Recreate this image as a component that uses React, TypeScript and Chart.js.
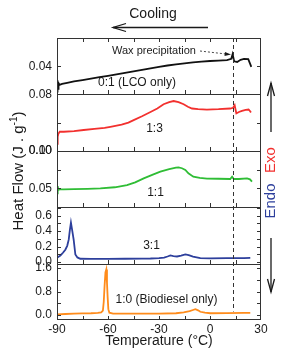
import React, { useEffect, useRef } from "react";
import { Chart, registerables } from "chart.js";

Chart.register(...registerables);

const W = 284;
const H = 356;
const FONT = "'Liberation Sans', Arial, Helvetica, sans-serif";

// ---- Data (temperature in °C, heat flow in J/g) ----
const tempLCO = [-90, -89.7, -89.4, -89.1, -88.5, -87, -84, -80, -75, -70, -65, -60, -55, -50, -45, -40, -35, -30, -25, -20, -15, -10, -5, 0, 5, 10, 12.5, 13.3, 14.2, 16, 18, 20, 22.5, 23.5, 24.3];
const flowLCO = [0.022, 0.030, 0.024, 0.028, 0.0268, 0.0275, 0.0282, 0.0292, 0.0302, 0.0312, 0.0322, 0.0332, 0.0342, 0.0353, 0.0363, 0.0374, 0.0385, 0.0396, 0.0405, 0.0413, 0.042, 0.0427, 0.0432, 0.0437, 0.044, 0.0443, 0.0452, 0.0485, 0.0435, 0.043, 0.0445, 0.0452, 0.045, 0.042, 0.0395];

const temp13 = [-90, -89.6, -89.2, -88.4, -86, -80, -74.3, -68, -62, -58.6, -52, -48, -44.9, -40, -35, -31, -27.3, -24, -21.4, -18.5, -15.5, -13, -10.6, -7, -1.8, 5, 11.9, 13.6, 14.5, 15.5, 17, 18.8, 21, 22.7, 23.5, 24.1];
const flow13 = [0.010, 0.020, 0.024, 0.027, 0.027, 0.028, 0.0295, 0.031, 0.0325, 0.034, 0.037, 0.040, 0.0435, 0.049, 0.055, 0.060, 0.066, 0.069, 0.0706, 0.069, 0.066, 0.0625, 0.060, 0.059, 0.0585, 0.059, 0.060, 0.061, 0.0646, 0.053, 0.055, 0.0566, 0.058, 0.0585, 0.0565, 0.0543];

const temp11 = [-90, -89.6, -89.2, -88.5, -86, -80, -72, -64.5, -56, -48.8, -44, -39, -34, -29.2, -24, -20, -18.5, -16.5, -14.5, -12.7, -9.8, -6, -1.8, 5, 11.9, 13, 14, 17, 21.8, 23.5, 24.7];
const flow11 = [0.0433, 0.0531, 0.048, 0.0487, 0.0488, 0.049, 0.0495, 0.050, 0.0515, 0.0545, 0.058, 0.0634, 0.068, 0.0723, 0.0755, 0.0775, 0.078, 0.0768, 0.0745, 0.070, 0.0656, 0.064, 0.063, 0.0628, 0.0625, 0.0656, 0.0625, 0.0625, 0.0634, 0.062, 0.059];

const temp31 = [-90, -88, -86.5, -85.1, -84, -83.1, -82.4, -81.8, -81.2, -80.2, -79.2, -78, -76.3, -70, -60, -50, -40, -35, -30, -27, -25, -23.3, -21.5, -19.4, -17, -14.5, -12.5, -10, -5.7, 0, 10, 13.3, 15, 20, 23.7];
const flow31 = [0.056, 0.085, 0.12, 0.16, 0.21, 0.29, 0.42, 0.51, 0.43, 0.29, 0.098, 0.06, 0.043, 0.042, 0.042, 0.043, 0.045, 0.046, 0.05, 0.058, 0.072, 0.085, 0.078, 0.072, 0.082, 0.098, 0.09, 0.07, 0.05, 0.048, 0.05, 0.052, 0.05, 0.052, 0.054];

const tempBio = [-90, -85, -80, -75, -70, -66, -64, -63, -62.5, -62, -61.5, -61, -60.6, -60.2, -59.8, -59.2, -57, -50, -40, -30, -20, -15.5, -12, -10, -8.6, -7, -5.7, -3, 0.2, 10, 20, 23.7];
const flowBio = [0.024, 0.035, 0.045, 0.055, 0.06, 0.07, 0.09, 0.15, 0.45, 1.0, 1.45, 1.55, 1.1, 0.6, 0.2, 0.08, 0.05, 0.045, 0.045, 0.048, 0.06, 0.09, 0.13, 0.17, 0.2, 0.16, 0.11, 0.08, 0.06, 0.065, 0.072, 0.075];

// ---- Axis ticks ----
const xLabelTicks = [-90, -60, -30, 0, 30];
const xMinorTicks = [-75, -60, -45, -30, -15, 0, 15];
const ticksP1 = [0.04];
const labelsP1 = [0.04];
const ticksP2 = [0, 0.04, 0.08];
const labelsP2 = [0, 0.08];
const ticksP3 = [0.05, 0.075, 0.1];
const labelsP3 = [0.05, 0.1];
const ticksP4 = [0, 0.1, 0.2, 0.3, 0.4, 0.5, 0.6, 0.7];
const labelsP4 = [0, 0.2, 0.4, 0.6];
const ticksP5 = [0, 0.4, 0.8, 1.2, 1.6];
const labelsP5 = [0, 0.8, 1.6];

const waxTemp = 13.3;

const COL_BLACK = "#111111";
const COL_RED = "#f2302e";
const COL_GREEN = "#2fbd35";
const COL_BLUE = "#2d3f9c";
const COL_ORANGE = "#ff8c1c";
const TXT = "#1a1a1a";
const FRAME = "#333333";

const pts = (xs: number[], ys: number[]) => xs.map((t, i) => ({ x: t, y: ys[i] }));

function yScale(min: number, max: number, ticks: number[], labels: number[], dec: number) {
  return {
    type: "linear",
    position: "left",
    stack: "panels",
    stackWeight: 1,
    min,
    max,
    afterBuildTicks: (s: any) => {
      s.ticks = ticks.map((v) => ({ value: v }));
    },
    afterFit: (s: any) => {
      s.width = 57;
    },
    grid: { display: false, drawTicks: false },
    border: { display: false },
    ticks: {
      autoSkip: false,
      padding: 5,
      color: TXT,
      font: { family: FONT, size: 12 },
      callback: (v: any) => (labels.some((l) => Math.abs(l - v) < 1e-9) ? Number(v).toFixed(dec) : ""),
    },
  };
}

function arrowHead(ctx: CanvasRenderingContext2D, tx: number, ty: number, dx: number, dy: number, len: number, half: number) {
  const nx = -dy, ny = dx;
  ctx.beginPath();
  ctx.moveTo(tx - dx * len + nx * half, ty - dy * len + ny * half);
  ctx.lineTo(tx, ty);
  ctx.lineTo(tx - dx * len - nx * half, ty - dy * len - ny * half);
  ctx.stroke();
}

const decorPlugin = {
  id: "decor",
  afterDraw(chart: any) {
    const { ctx, chartArea: a, scales } = chart;
    const xs = scales.x;
    const panels = [scales.p1, scales.p2, scales.p3, scales.p4, scales.p5];
    ctx.save();

    // dashed wax precipitation line
    ctx.strokeStyle = FRAME;
    ctx.lineWidth = 1;
    ctx.setLineDash([4, 3]);
    const dx = Math.round(xs.getPixelForValue(waxTemp)) + 0.5;
    ctx.beginPath();
    ctx.moveTo(dx, a.top);
    ctx.lineTo(dx, scales.p5.getPixelForValue(0.12));
    ctx.stroke();
    ctx.setLineDash([]);

    // frame
    ctx.strokeStyle = FRAME;
    ctx.lineWidth = 1;
    ctx.strokeRect(a.left + 0.5, a.top + 0.5, a.right - a.left - 1, a.bottom - a.top - 1);
    panels.slice(0, 4).forEach((s: any) => {
      const y = Math.round(s.bottom) + 0.5;
      ctx.beginPath();
      ctx.moveTo(a.left, y);
      ctx.lineTo(a.right, y);
      ctx.stroke();
    });

    // y ticks, inward on both sides
    panels.forEach((s: any) => {
      s.ticks.forEach((t: any) => {
        const y = Math.round(s.getPixelForValue(t.value)) + 0.5;
        ctx.beginPath();
        ctx.moveTo(a.left, y);
        ctx.lineTo(a.left + 4, y);
        ctx.moveTo(a.right, y);
        ctx.lineTo(a.right - 4, y);
        ctx.stroke();
      });
    });

    // x ticks: up from each panel bottom, down from top frame
    xMinorTicks.forEach((v) => {
      const x = Math.round(xs.getPixelForValue(v)) + 0.5;
      ctx.beginPath();
      ctx.moveTo(x, a.top);
      ctx.lineTo(x, a.top + 4);
      panels.forEach((s: any) => {
        const b = Math.round(s.bottom);
        ctx.moveTo(x, b);
        ctx.lineTo(x, b - 4);
      });
      ctx.stroke();
    });

    // Cooling arrow
    ctx.fillStyle = TXT;
    ctx.strokeStyle = TXT;
    ctx.font = `14px ${FONT}`;
    ctx.textAlign = "center";
    ctx.textBaseline = "middle";
    ctx.fillText("Cooling", 153, 14);
    ctx.lineWidth = 1.3;
    ctx.beginPath();
    ctx.moveTo(208, 27.5);
    ctx.lineTo(113, 27.5);
    ctx.stroke();
    arrowHead(ctx, 113, 27.5, -1, 0, 13, 4);

    // Wax precipitation label + dashed arrow
    ctx.font = `11px ${FONT}`;
    ctx.textAlign = "left";
    ctx.fillText("Wax precipitation", 112, 51);
    ctx.lineWidth = 0.8;
    ctx.setLineDash([2, 2]);
    ctx.beginPath();
    ctx.moveTo(200, 51);
    ctx.lineTo(226, 54);
    ctx.stroke();
    ctx.setLineDash([]);
    ctx.beginPath();
    ctx.moveTo(231, 54.6);
    ctx.lineTo(225, 52);
    ctx.lineTo(224.5, 56);
    ctx.closePath();
    ctx.fill();

    // panel labels
    ctx.font = `12px ${FONT}`;
    ctx.textAlign = "center";
    ctx.fillText("0:1 (LCO only)", 137, 83);
    ctx.fillText("1:3", 154.5, 129);
    ctx.fillText("1:1", 155.5, 193);
    ctx.fillText("3:1", 151.5, 246);
    ctx.fillText("1:0 (Biodiesel only)", 166.5, 300);

    // right side Exo / Endo arrows
    ctx.lineWidth = 1.3;
    ctx.strokeStyle = TXT;
    ctx.beginPath();
    ctx.moveTo(271, 132);
    ctx.lineTo(271, 83);
    ctx.stroke();
    arrowHead(ctx, 271, 83, 0, -1, 13, 3.5);
    ctx.beginPath();
    ctx.moveTo(271, 238);
    ctx.lineTo(271, 292);
    ctx.stroke();
    arrowHead(ctx, 271, 292, 0, 1, 13, 3.5);

    ctx.font = `15px ${FONT}`;
    ctx.save();
    ctx.translate(271, 160);
    ctx.rotate(-Math.PI / 2);
    ctx.fillStyle = COL_RED;
    ctx.fillText("Exo", 0, 0);
    ctx.restore();
    ctx.save();
    ctx.translate(271, 201);
    ctx.rotate(-Math.PI / 2);
    ctx.fillStyle = COL_BLUE;
    ctx.fillText("Endo", 0, 0);
    ctx.restore();

    // y-axis title with superscript
    ctx.save();
    ctx.translate(19, 171);
    ctx.rotate(-Math.PI / 2);
    ctx.fillStyle = TXT;
    const mainFont = `15px ${FONT}`;
    const supFont = `10px ${FONT}`;
    const p1 = "Heat Flow (J . g";
    const p2 = "-1";
    const p3 = ")";
    ctx.font = mainFont;
    const w1 = ctx.measureText(p1).width;
    const w3 = ctx.measureText(p3).width;
    ctx.font = supFont;
    const w2 = ctx.measureText(p2).width;
    const total = w1 + w2 + w3;
    let cx = -total / 2;
    ctx.textAlign = "left";
    ctx.font = mainFont;
    ctx.fillText(p1, cx, 0);
    cx += w1;
    ctx.font = supFont;
    ctx.fillText(p2, cx, -5);
    cx += w2;
    ctx.font = mainFont;
    ctx.fillText(p3, cx, 0);
    ctx.restore();

    ctx.restore();
  },
};

export default function App() {
  const ref = useRef<HTMLCanvasElement | null>(null);

  useEffect(() => {
    if (!ref.current) return;
    const line = (xs: number[], ys: number[], color: string, axis: string) => ({
      data: pts(xs, ys),
      yAxisID: axis,
      borderColor: color,
      backgroundColor: color,
      borderWidth: 1.8,
      pointRadius: 0,
      tension: 0,
      fill: false,
    });
    const chart = new Chart(ref.current, {
      type: "line",
      data: {
        datasets: [
          line(tempLCO, flowLCO, COL_BLACK, "p1"),
          line(temp13, flow13, COL_RED, "p2"),
          line(temp11, flow11, COL_GREEN, "p3"),
          line(temp31, flow31, COL_BLUE, "p4"),
          line(tempBio, flowBio, COL_ORANGE, "p5"),
        ] as any,
      },
      options: {
        responsive: false,
        animation: false,
        events: [],
        layout: { padding: { left: 0, right: 23, top: 38, bottom: 0 } },
        plugins: {
          legend: { display: false },
          tooltip: { enabled: false },
          title: { display: false },
        },
        scales: {
          x: {
            type: "linear",
            position: "bottom",
            min: -90,
            max: 30,
            afterBuildTicks: (s: any) => {
              s.ticks = xLabelTicks.map((v) => ({ value: v }));
            },
            afterFit: (s: any) => {
              s.height = 36;
            },
            grid: { display: false, drawTicks: false },
            border: { display: false },
            ticks: {
              autoSkip: false,
              maxRotation: 0,
              padding: 2,
              color: TXT,
              font: { family: FONT, size: 12 },
              callback: (v: any) => String(v),
            },
            title: {
              display: true,
              text: "Temperature (°C)",
              color: TXT,
              font: { family: FONT, size: 14 },
              padding: { top: 0, bottom: 6 },
            },
          },
          p5: yScale(-0.17, 1.75, ticksP5, labelsP5, 1),
          p4: yScale(-0.02, 0.71, ticksP4, labelsP4, 1),
          p3: yScale(0.025, 0.1, ticksP3, labelsP3, 2),
          p2: yScale(0, 0.08, ticksP2, labelsP2, 2),
          p1: yScale(0.02, 0.06, ticksP1, labelsP1, 2),
        } as any,
      },
      plugins: [decorPlugin as any],
    });
    return () => chart.destroy();
  }, []);

  return (
    <div style={{ position: "fixed", left: 0, top: 0, width: W, height: H, background: "#fff" }}>
      <canvas ref={ref} width={W} height={H} style={{ display: "block", width: W, height: H }} />
    </div>
  );
}
